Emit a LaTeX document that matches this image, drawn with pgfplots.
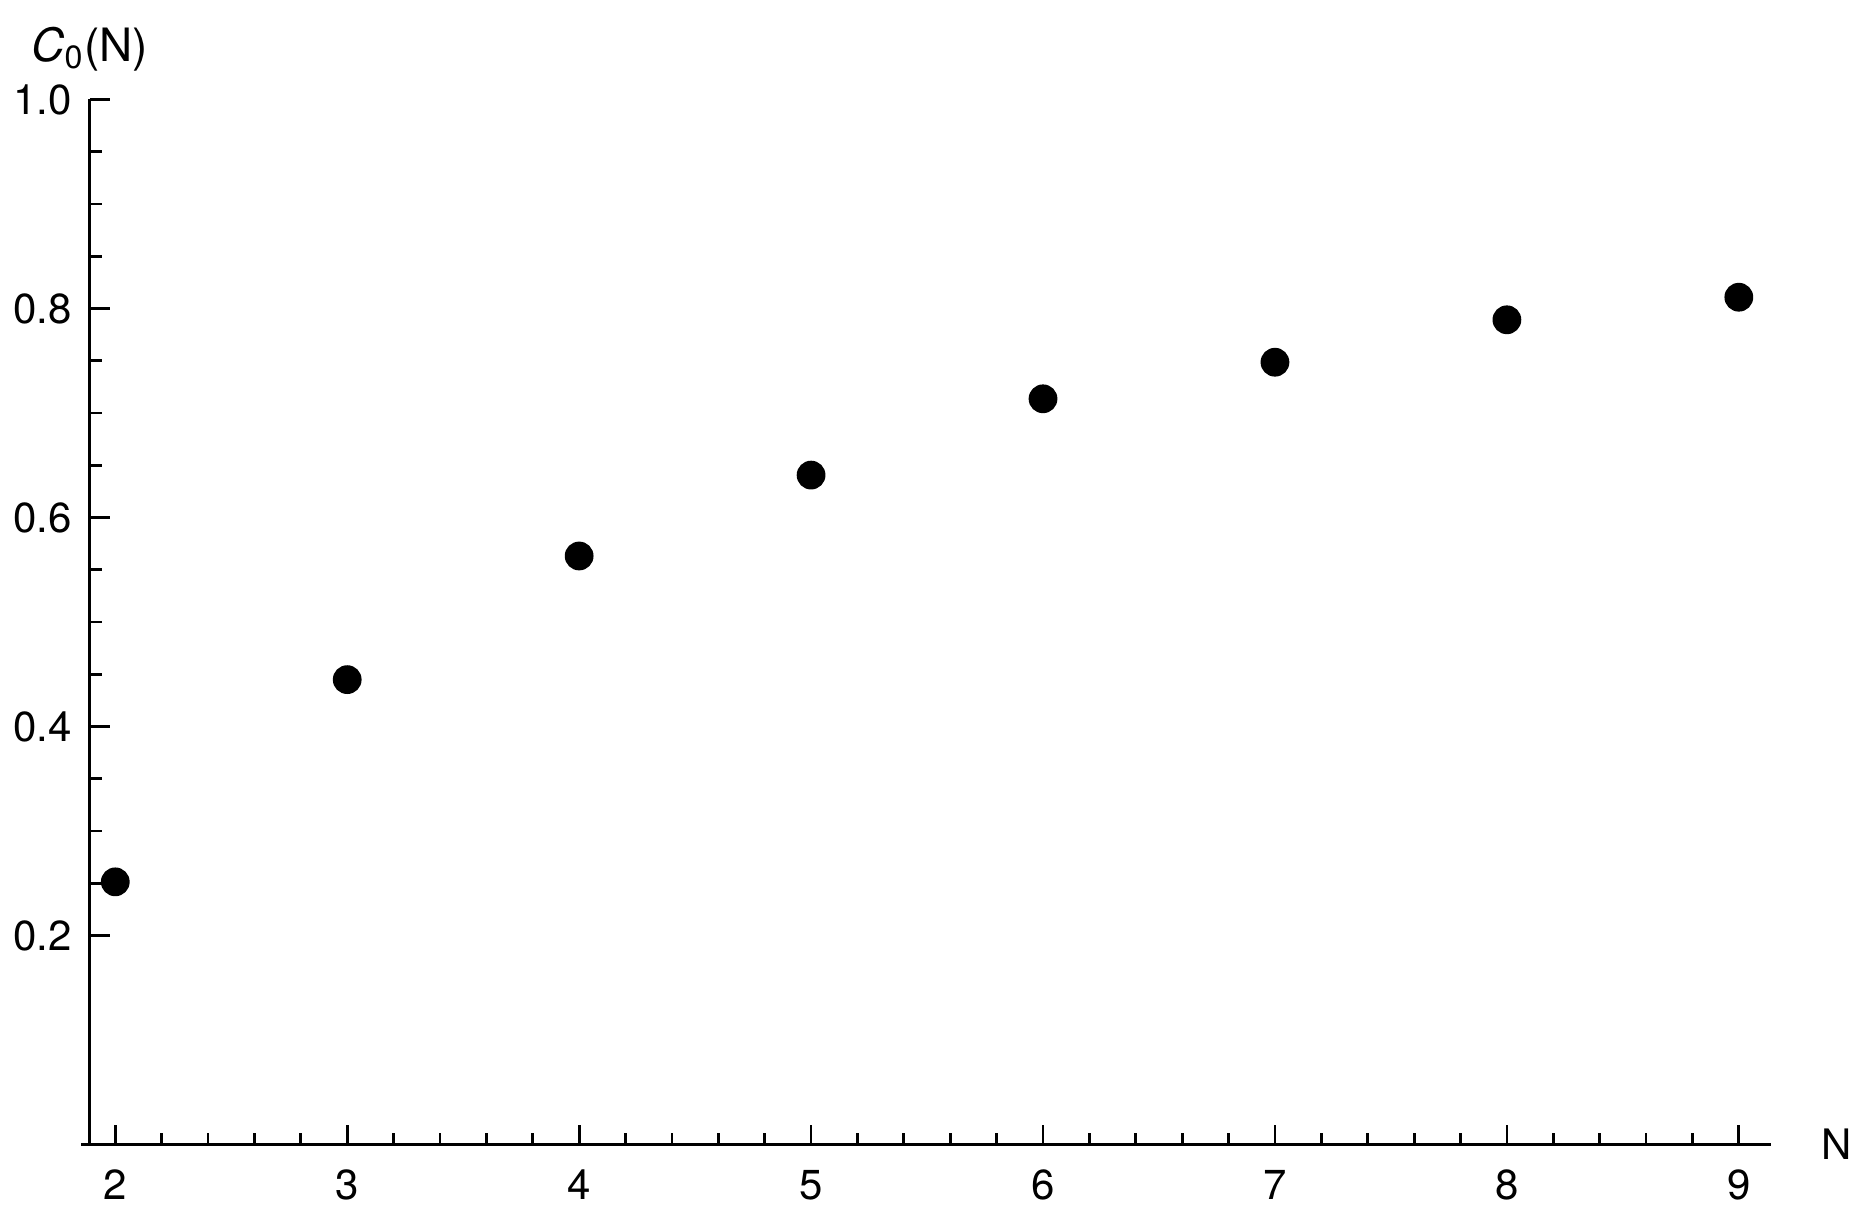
\documentclass[border={0pt 2.5pt 0pt 3.5pt}]{standalone}
\usepackage{pgfplots}
\pgfplotsset{compat=1.18}
\usepackage{fontspec}
\setmainfont{TeX Gyre Heros}
\begin{document}
\begin{tikzpicture}
\begin{axis}[
    scale only axis,
    width=420.75pt, height=261.5pt,
    xmin=1.89, xmax=9.14,
    ymin=0, ymax=1.0,
    axis x line=bottom, axis y line=left,
    axis line style={-, line width=0.7pt},
    xtick={2,...,9},
    minor x tick num=4,
    ytick={0.2,0.4,0.6,0.8,1.0},
    minor y tick num=3,
    tick align=inside,
    major tick length=5pt,
    minor tick length=3pt,
    tick style={black, line width=0.7pt},
    /pgf/number format/assume math mode=true,
    /pgf/number format/fixed,
    /pgf/number format/fixed zerofill,
    /pgf/number format/precision=1,
    xticklabel={\pgfmathprintnumber[precision=0,fixed zerofill=false]{\tick}},
    tick label style={font=\fontsize{10.5}{12}\selectfont},
    yticklabel style={xshift=-1pt},
    xticklabel style={yshift=-2.8pt},
    clip=false,
]
\addplot[only marks, mark=*, mark size=3.4pt, black] coordinates {
    (2, 0.2514)
    (3, 0.4449)
    (4, 0.5632)
    (5, 0.6406)
    (6, 0.7136)
    (7, 0.7486)
    (8, 0.7892)
    (9, 0.8108)
};
\draw[line width=0.7pt] (axis cs:1.853,0) -- (axis cs:1.89,0);
\node[anchor=south, font=\fontsize{11.5}{13}\selectfont] at (axis cs:1.89,1.0) [yshift=3.5pt] {\textit{C}\textsubscript{0}(N)};
\node[anchor=west, font=\fontsize{10.5}{12}\selectfont] at (axis cs:9.14,0) [xshift=9pt] {N};
\end{axis}
\end{tikzpicture}
\end{document}
